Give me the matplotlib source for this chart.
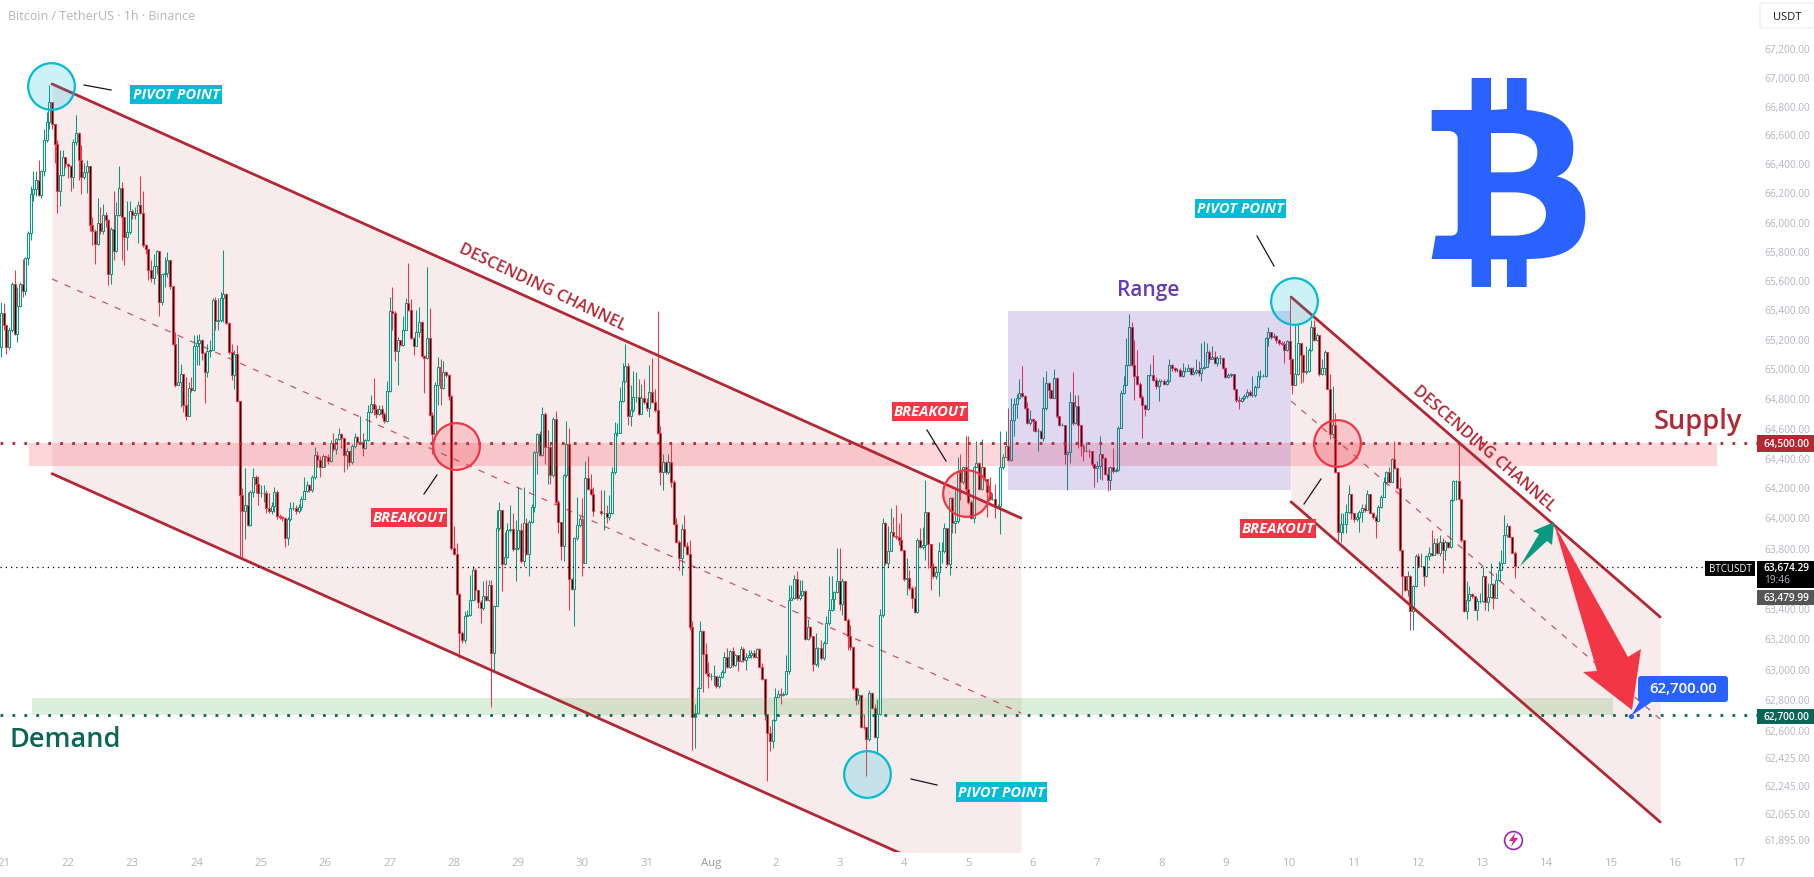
import matplotlib
matplotlib.use("Agg")
import matplotlib.pyplot as plt
from matplotlib.patches import Rectangle, FancyBboxPatch, Polygon, PathPatch
from matplotlib.path import Path
from matplotlib.transforms import Affine2D

W, H = 1815, 878
plt.rcParams['font.family'] = ['Open Sans', 'DejaVu Sans']

# hourly candles (close, high, low), open is the previous close
seg_a = [
 (65372,65451,65077),(65293,65440,65259),(65145,65293,65100),(65259,65281,65134),(65571,65587,65247),(65236,65666,65225),
 (65422,65553,65179),(65571,65587,65417),(65526,65746,65485),(65752,65757,65496),(65920,65938,65700),(66187,66244,65870),
 (66221,66350,66142),(66289,66350,66176),(66183,66425,66176),(66346,66357,66165),(66561,66640,66312),(66685,66753,66550),
 (66826,66946,66640),(66674,66826,66640),(66534,66674,66400),(66210,66561,66056),(66319,66493,66108),(66441,66493,66312),
 (66396,66441,66368),(66380,66396,66300),(66305,66391,66210),(66550,66572,66233),(66611,66735,66527),(66425,66618,66289),
 (66305,66527,66187),(66340,66400,66290),(66380,66425,66199),(65979,66380,65938),(65938,66029,65836),(65843,65949,65712),
 (65990,66165,65836),(65934,66097,65915),(66047,66119,65915),(66013,66063,65961),(65639,66017,65564),(65952,65961,65576),
 (65795,66210,65734),(66047,66131,65791),(66228,66380,66040),(66029,66273,65734),(65897,66029,65700),(65927,66142,65802),
 (66074,66142,65915),(66047,66085,66017),(66060,66100,66020),(66115,66142,65852),(66060,66312,66051),(65836,66210,65825),
 (65809,65847,65780),(65666,65813,65598),(65616,65734,65587),(65693,65780,65576),(65795,65802,65644),(65449,65791,65358),
 (65639,65644,65428),(65648,65757,65553),(65739,65791,65621),(65558,65739,65542),(65168,65553,65157),(64885,65247,64874),
 (64907,65213,64885),(64960,65032,64738),(64756,64964,64704),(64681,64941,64652),(64869,64907,64681),(64851,64941,64840),
 (65150,65225,64846),(65172,65225,65021),(65190,65236,65021),(65105,65202,65055),(64978,65111,64765),(65118,65168,64941),
 (65127,65190,65077),(65462,65474,65123),(65322,65485,65259),(65326,65474,65259),(65476,65519,65315),(65503,65807,65315),
 (65308,65508,65299),(65111,65317,65100),(64953,65168,64919),(65100,65123,64862),(64783,65157,64772),(64153,64783,63730),
 (64040,64194,63730),(64085,64330,63854),(63949,64171,63940),(64171,64183,63945),(64267,64330,64137),(64221,64285,64160),
 (64160,64274,64081),(64165,64217,64137),(64165,64217,64103),(64063,64183,64031),(64040,64160,64031),(64076,64103,64024),
 (64171,64205,64035),(64013,64183,63990),(64001,64024,63990),(63995,64010,63979),(63866,64001,63804),(63990,64001,63820),
 (64063,64103,63979),(64063,64103,64047),(64040,64085,64020),(64067,64090,64030),
]
seg_b = [
 (64126,64141,64053),(64174,64269,64133),(64214,64245,64170),(64181,64225,64170),(64269,64280,64170),(64419,64471,64258),
 (64386,64441,64335),(64339,64412,64269),(64412,64423,64335),(64405,64412,64335),(64375,64427,64357),(64500,64515,64368),
 (64456,64566,64445),(64522,64533,64423),(64555,64599,64515),(64529,64566,64467),(64419,64533,64302),(64441,64467,64324),
 (64368,64441,64346),(64478,64489,64357),(64540,64566,64467),(64507,64544,64489),(64507,64676,64489),(64467,64566,64412),
 (64515,64522,64456),(64709,64753,64511),(64760,64823,64698),(64727,64933,64687),(64691,64753,64665),(64727,64753,64687),
 (64691,64753,64665),(64643,64709,64632),(64848,64918,64639),(65391,65483,64841),(65376,65549,65259),(65116,65391,65050),
 (65193,65211,64885),(65156,65193,65149),(65263,65358,65153),(65446,65479,65259),(65395,65714,65391),(65204,65468,65197),
 (65149,65211,65087),(65248,65395,65149),(65314,65413,65215),(65083,65321,65079),(65072,65087,64837),(65204,65688,65061),
 (64687,65409,64676),(64555,64709,64423),(64885,64907,64522),(65006,65079,64753),(64867,65061,64753),(64973,65050,64863),
 (64955,64984,64940),(64815,64962,64786),(63796,64819,63785),(63759,63943,63752),(63495,63833,63488),(63239,63499,63070),
 (63187,63246,63169),(63349,63378,63173),(63356,63389,63345),(63455,63620,63345),(63653,63675,63444),(63517,63664,63455),
 (63437,63521,63400),(63400,63455,63301),(63481,63576,63389),(63455,63587,63444),(63554,63587,63444),(63107,63587,62751),
 (63415,63422,62982),(63928,64049,63411),(64049,64104,63917),(63693,64049,63510),(63737,63906,63686),(63917,63961,63730),
 (63921,64082,63906),(63789,64027,63780),(63796,63983,63576),(63917,64203,63785),(63708,63961,63701),(63961,64203,63675),
 (63759,63994,63752),(63972,63983,63613),(64071,64093,63961),(64434,64445,64038),(64555,64566,64291),(64419,64577,64412),
 (64694,64742,64412),(64471,64709,64357),(64471,64588,64225),(64280,64500,64225),(64661,64669,64269),(64104,64713,64093),
 (63968,64115,63895),(63811,63972,63719),(64280,64291,63708),(64493,64643,64269),(63591,64599,63389),(63525,63598,63521),
 (63862,63873,63279),(63950,64137,63851),(63990,64009,63939),(63701,64133,63609),(64265,64379,63697),(64192,64412,64181),
 (64159,64291,64148),(64040,64200,64010),
]
seg_c = [
 (64027,64181,64016),(64027,64181,63917),(64001,64082,63961),(64027,64148,63983),(64302,64335,64023),(64562,64639,64291),
 (64566,64632,64544),(64782,64874,64566),(64914,65039,64775),(65013,65167,64907),(64676,65039,64621),(64720,64885,64610),
 (64808,64984,64709),(64808,64977,64775),(64694,64929,64687),(64797,64896,64698),(64771,64929,64757),(64731,64797,64713),
 (64841,65021,64669),(64775,65072,64764),(64720,64863,64709),(64566,65390,64555),(64302,64610,64214),(64368,64423,64181),
 (64302,64375,64291),(64368,64423,64291),(64236,64493,64203),(63957,64247,63950),(63840,63994,63833),(63730,63851,63653),
 (63924,63957,63620),(63811,64016,63807),(63759,63840,63752),(63275,63851,63257),(62685,63312,62469),(62711,62773,62487),
 (62876,62883,62707),(63250,63312,62872),(63099,63257,62850),(62975,63169,62966),(62953,63048,62872),(62953,62971,62927),
 (62953,63026,62894),(62887,62953,62878),(62945,62960,62878),(62982,62993,62938),(63081,63114,62975),(63011,63136,63004),
 (63118,63125,63004),(63026,63147,63015),(63088,63099,63022),(63055,63092,62989),(63132,63151,63048),(63059,63147,63048),
 (63077,63103,62993),(63092,63125,63070),(63107,63125,63070),(63077,63125,63070),(63132,63136,63070),(63015,63136,63011),
 (62932,63037,62927),(62707,62937,62667),(62579,62696,62271),(62527,62630,62465),(62663,62674,62487),(62817,62872,62659),
 (62835,62861,62817),(62828,62872,62773),(62835,62850,62821),(62989,63092,62828),(63455,63554,62967),(63466,63554,63451),
 (63591,63620,63459),(63466,63642,63455),(63488,63587,63455),(63510,63587,63477),(63195,63516,63191),(63275,63327,63191),
 (63213,63279,63202),(63033,63213,62989),(63136,63235,63022),(63136,63147,63015),(63070,63191,63059),(63173,63180,63059),
 (63301,63345,63169),(63389,63609,63290),(63459,63613,63378),(63503,63510,63389),(63576,63796,63499),(63429,63800,63389),
 (63576,63598,63356),(63323,63576,63319),(63213,63334,63125),(63143,63290,63125),(62872,63147,62865),(62795,62883,62762),
 (62828,62872,62773),(62623,62828,62614),(62619,62707,62608),(62542,62608,62300),(62843,62865,62531),(62747,62850,62740),
 (62557,62773,62549),(62703,62806,62443),(63356,63393,62696),(63965,63994,63344),(63697,63972,63686),(63778,63943,63671),
 (63906,64060,63774),(63877,64005,63868),(63873,64082,63855),(63850,63960,63820),
]
seg_d = [
 (63781,64027,63774),(63591,63785,63576),(63598,63730,63488),(63532,63653,63521),(63466,63543,63400),(63371,63543,63367),
 (63851,63862,63367),(63807,63928,63796),(63818,63939,63790),(64038,64251,63719),(63825,63939,63664),(63675,63763,63521),
 (63609,63697,63598),(63640,63680,63590),(63774,63840,63477),(63780,63840,63700),(63928,63961,63763),(63693,63917,63680),
 (64130,64137,63620),(63961,64137,63895),(63979,64181,63895),(64302,64401,63961),(64236,64423,64115),(64335,64346,64225),
 (64192,64544,64170),(64104,64544,64093),(63994,64115,63987),(64335,64346,63961),(64364,64511,64335),(64192,64368,64181),
 (64335,64522,64181),(64258,64335,64247),(64170,64258,64005),(64126,64269,64115),(64126,64163,64115),(64071,64225,63994),
 (64075,64089,64060),(64335,64577,63890),(64405,64423,64324),(64478,64577,64401),(64386,64731,64379),(64654,64797,64379),
 (64760,64801,64544),(64797,64830,64665),(64834,64929,64793),(64815,65017,64808),(64731,64819,64727),(64630,64775,64625),
 (64661,64720,64621),(64643,64665,64577),(64577,64654,64573),(64577,64599,64445),(64529,64588,64522),(64731,64940,64511),
 (64903,64984,64720),(64852,64907,64797),(64801,64841,64797),(64933,64995,64797),(64676,64940,64665),(64617,64676,64610),
 (64621,64632,64610),(64427,64621,64357),(64434,64445,64181),(64771,64841,64361),(64630,64977,64621),(64749,64819,64625),
 (64617,64819,64467),(64478,64621,64412),(64445,64489,64379),(64445,64507,64434),(64441,64456,64401),(64357,64445,64346),
 (64331,64357,64203),(64346,64379,64236),(64423,64544,64258),(64397,64423,64247),(64291,64405,64280),(64251,64335,64174),
 (64339,64346,64185),(64309,64467,64295),(64317,64331,64302),(64599,64610,64313),(64837,64852,64595),(64890,64951,64830),
 (65021,65204,64885),(65277,65369,65017),(65021,65314,65017),(64947,65193,64786),(64896,65127,64889),(64808,64907,64801),
 (64753,64819,64529),(64727,64757,64676),(64955,64955,64720),(64955,65028,64947),(64922,65087,64918),(64881,64940,64863),
 (64918,64929,64779),(64918,64929,64907),(64896,64929,64889),(64918,64929,64889),(65021,65061,64907),(65000,65028,64984),
 (64991,65006,64973),(64991,65000,64977),(64947,65000,64940),(64984,65039,64940),(64984,65006,64977),(65000,65028,64984),
 (64962,65006,64955),(64975,65010,64955),(64990,65060,64960),(64970,65050,64950),
]
seg_e = [
 (65002,65170,64918),(65006,65182,64995),(65109,65175,65057),(65065,65127,65039),(65079,65149,65065),(65035,65116,65028),
 (65068,65083,65017),(65072,65087,65028),(65000,65079,64995),(64940,65006,64933),(64955,64969,64938),(64962,64969,64940),
 (64859,64962,64852),(64786,64859,64775),(64779,64815,64727),(64801,64808,64775),(64815,64830,64786),(64841,64863,64797),
 (64819,64852,64815),(64819,64947,64808),(64874,64885,64806),(64947,64984,64867),(64947,64991,64929),(64947,64962,64940),
 (65204,65215,64940),(65244,65281,65149),(65211,65248,65197),(65219,65237,65204),(65189,65226,65175),(65171,65197,65160),
 (65167,65182,65160),(65127,65182,65035),(65182,65193,65116),(65065,65480,64962),(64889,65072,64830),(64962,65303,64896),
 (65171,65303,64955),(65087,65171,64903),(64973,65094,64907),(64984,65149,64962),(65123,65138,64977),(65281,65325,65116),
 (65189,65325,65182),(65228,65237,65182),(64962,65228,64951),(65000,65061,64955),(65112,65123,64955),(64863,65112,64859),
 (64555,64962,64522),(64621,64881,64544),(64302,64698,64296),(63906,64302,63840),(63957,64032,63840),(63957,64027,63895),
 (64038,64093,63895),(64159,64214,64027),(64027,64159,63987),(63987,64027,63972),(64005,64027,63979),(64038,64049,63906),
 (64060,64093,63972),(64049,64093,64038),(64155,64181,64049),(64031,64159,64027),(64001,64038,63987),(63979,64016,63862),
 (64067,64082,63979),(64137,64148,64060),(64236,64269,64137),(64302,64313,64225),(64236,64335,64229),(64390,64397,64236),
 (64331,64511,64324),(64199,64335,64192),(63781,64269,63774),(63613,63781,63477),(63521,63613,63510),(63609,63642,63477),
 (63378,63620,63257),(63543,63554,63257),(63745,63759,63539),(63679,63763,63671),(63679,63763,63671),(63609,63679,63547),
 (63745,63752,63605),(63763,63807,63719),(63752,63917,63741),(63833,63862,63752),(63763,63862,63759),(63840,63884,63741),
 (63781,63862,63631),(63840,63851,63719),(63803,63840,63796),(64115,64126,63796),(64243,64247,64111),(64243,64251,64115),
 (64126,64493,64115),(63847,64126,63840),(63378,63851,63371),(63451,63576,63327),(63495,63543,63444),(63477,63499,63466),
 (63389,63477,63385),(63444,63466,63323),(63444,63499,63433),(63609,63670,63437),(63437,63609,63385),(63473,63565,63378),
 (63561,63697,63466),(63466,63565,63393),(63587,63631,63466),(63653,63708,63576),(63701,63785,63649),(63884,64016,63697),
 (63943,63961,63873),(63873,63950,63869),(63767,63873,63763),(63679,63774,63598),
]
segments = [seg_a, seg_b, seg_c, seg_d, seg_e]
seg_first_hour = [0, 112, 224, 336, 448]
first_open = 65145

# axes
day_labels = ['21','22','23','24','25','26','27','28','29','30','31','Aug','2','3','4','5','6','7','8','9','10','11','12','13','14','15','16','17']
price_ticks = [67200,67000,66800,66600,66400,66200,66000,65800,65600,65400,65200,65000,64800,64600,64400,64200,64000,
               63800,63400,63200,63000,62800,62600,62425,62245,62065,61895]

# levels
supply_price = 64500
supply_low = 64343
demand_price = 62700
demand_high = 62810
last_price = 63674.29
range_top = 65391
range_bottom = 64185

# channels: x in days from 21 Jul, prices at both ends
chan1_x = [0.75, 15.82]
chan1_upper = [66951, 63996]
chan1_mid = [65607, 62712]
chan1_lower = [64292, 61458]
chan2_x = [20.02, 25.76]
chan2_upper = [65484, 63341]
chan2_mid = [64780, 62673]
chan2_lower = [64104, 62005]

pivot_days = [0.727, 13.42, 20.06]
pivot_prices = [66937, 62315, 65459]
break_days = [7.04, 14.96, 20.73]
break_prices = [64477, 64162, 64495]

RED = '#b22833'
TEAL = '#089981'
CANDLE_RED = '#f23645'
GREEN_DK = '#0b6655'
GRAY = '#b2b5be'
BLUE = '#2962ff'

fig = plt.figure(figsize=(W / 100, H / 100), dpi=100, facecolor='white')
ax = fig.add_axes([0, 1 - 853 / H, 1757 / W, 853 / H])
ax.set_yscale('log')
ax.set_xlim(-0.0591, 27.266)
ax.set_ylim(61812, 67545)
for s in ax.spines.values():
    s.set_visible(False)

# picture-pixel transform for drawing tools (labels, callouts)
pix = Affine2D().scale(1, -1).translate(0, H)

ax.set_xticks(range(len(day_labels)))
ax.set_xticklabels(day_labels, fontsize=8.2, color=GRAY)
ax.get_xticklabels()[11].set_color('#9598a1')
ax.tick_params(axis='x', length=0, pad=3.5)
ax.yaxis.tick_right()
ax.set_yticks(price_ticks)
ax.set_yticklabels([f'{p:,.2f}' for p in price_ticks], fontsize=7.3, color=GRAY)
ax.minorticks_off()
ax.tick_params(axis='y', which='both', length=0, pad=5)

# channels
ax.fill_between(chan1_x, chan1_lower, chan1_upper, color=RED, alpha=0.09, lw=0, zorder=1)
ax.fill_between(chan2_x, chan2_lower, chan2_upper, color=RED, alpha=0.09, lw=0, zorder=1)

# candles
prev = first_open
for start, seg in zip(seg_first_hour, segments):
    for n, (c, hi, lo) in enumerate(seg):
        x = -0.0417 + (start + n) / 24
        up = c >= prev
        col = TEAL if up else CANDLE_RED
        ax.vlines(x, min(lo, c, prev), max(hi, c, prev), color=col, lw=0.75, zorder=3)
        ax.bar(x, abs(c - prev), bottom=min(c, prev), width=0.031, align='center',
               facecolor='white' if up else 'black', edgecolor=col, linewidth=0.75, zorder=4)
        prev = c

# zones sit over the candles
ax.add_patch(Rectangle((0.39, supply_low), 26.25, supply_price - supply_low, fc=CANDLE_RED, alpha=0.2, lw=0, zorder=5))
ax.add_patch(Rectangle((0.44, demand_price), 24.58, demand_high - demand_price, fc='#4caf50', alpha=0.2, lw=0, zorder=5))
ax.add_patch(Rectangle((15.62, range_bottom), 4.4, range_top - range_bottom, fc='#673ab7', alpha=0.2, lw=0, zorder=5))

for xs, up_l, mid_l, lo_l in [(chan1_x, chan1_upper, chan1_mid, chan1_lower), (chan2_x, chan2_upper, chan2_mid, chan2_lower)]:
    ax.plot(xs, up_l, color=RED, lw=2, zorder=6, solid_capstyle='round')
    ax.plot(xs, lo_l, color=RED, lw=2, zorder=6, solid_capstyle='round')
    ax.plot(xs, mid_l, color=RED, lw=0.9, alpha=0.75, dashes=(5, 6), zorder=6)

ax.plot([-0.06, 27.27], [supply_price] * 2, color=RED, lw=2, dashes=(1, 3.3), zorder=6)
ax.plot([-0.06, 27.27], [demand_price] * 2, color=GREEN_DK, lw=2, dashes=(1, 3.3), zorder=6)
ax.plot([-0.06, 26.5], [last_price] * 2, color='black', lw=0.9, dashes=(1, 3.2), zorder=6)

ax.scatter(pivot_days, pivot_prices, s=1130, fc=(0, 188 / 255, 212 / 255, 0.2), ec='#00bcd4', lw=1.6, zorder=7)
ax.scatter(break_days, break_prices, s=1130, fc=(242 / 255, 54 / 255, 69 / 255, 0.2), ec=CANDLE_RED, lw=1.6, zorder=7)

# callout lines
for (x0, y0, x1, y1) in [(84, 86, 111, 91), (437, 476, 424, 495), (927, 431, 946, 462),
                         (911, 780, 937, 786), (1257, 237, 1274, 267), (1304, 505, 1321, 480)]:
    ax.plot([x0, x1], [y0, y1], color='#131722', lw=0.9, transform=pix, zorder=7)


def tag(x0, y0, x1, y1, text, color):
    ax.add_patch(Rectangle((x0, y0), x1 - x0, y1 - y0, fc=color, lw=0, transform=pix, zorder=8))
    ax.text((x0 + x1) / 2, (y0 + y1) / 2, text, color='white', fontsize=10.6, fontweight='bold', style='italic',
            ha='center', va='center', transform=pix, zorder=9)


tag(130, 86, 222, 105, 'PIVOT POINT', '#00bcd4')
tag(1195, 200, 1286, 219, 'PIVOT POINT', '#00bcd4')
tag(956, 783, 1047, 803, 'PIVOT POINT', '#00bcd4')
tag(371, 509, 447, 528, 'BREAKOUT', CANDLE_RED)
tag(892, 403, 968, 422, 'BREAKOUT', CANDLE_RED)
tag(1240, 520, 1316, 539, 'BREAKOUT', CANDLE_RED)

ax.text(542, 288, 'DESCENDING CHANNEL', color=RED, fontsize=11.6, fontweight='semibold', rotation=-25.5, rotation_mode='anchor',
        ha='center', va='center', transform=pix, zorder=8)
ax.text(1484, 449, 'DESCENDING CHANNEL', color=RED, fontsize=11.6, fontweight='semibold', rotation=-41, rotation_mode='anchor',
        ha='center', va='center', transform=pix, zorder=8)
ax.text(1148, 291, 'Range', color='#673ab7', fontsize=15, fontweight='semibold', ha='center', va='center', transform=pix, zorder=8)
ax.text(1698, 422, 'Supply', color=RED, fontsize=19.5, fontweight='semibold', ha='center', va='center', transform=pix, zorder=8, clip_on=False)
ax.text(65, 740, 'Demand', color=GREEN_DK, fontsize=19.5, fontweight='semibold', ha='center', va='center', transform=pix, zorder=8)

# arrows
ax.add_patch(Polygon([(1520, 567), (1539, 535), (1533, 532), (1554, 523), (1552, 546), (1547, 542)],
                     fc=TEAL, lw=0, transform=pix, zorder=8))
ax.add_patch(Polygon([(1554, 525), (1628, 658), (1641, 650), (1632, 711), (1583, 673), (1597, 672)],
                     fc=CANDLE_RED, lw=0, transform=pix, zorder=8))

# target label
ax.add_patch(Polygon([(1631, 717), (1640, 702), (1653, 702)], fc=BLUE, lw=0, transform=pix, zorder=8))
ax.scatter([1631], [717], s=14, fc=BLUE, lw=0, transform=pix, zorder=8)
ax.add_patch(FancyBboxPatch((1641, 680), 84, 20, boxstyle='round,pad=3', fc=BLUE, lw=0, transform=pix, zorder=8))
ax.text(1683, 689.5, '62,700.00', color='white', fontsize=10.8, fontweight='semibold', ha='center', va='center', transform=pix, zorder=9)

# bitcoin logo, from the shape in the picture (units: crop pixels x3)
logo_verts = [
    (155,153),(275,153),(275,57),(333,57),(333,153),(381,150),(381,57),(440,57),(440,153),
    (530,160),(580,195),(580,265),(580,310),(565,340),(530,352),(590,365),(616,410),(616,470),
    (616,560),(560,600),(440,600),(440,684),(381,684),(381,601),(333,601),(333,684),(275,684),
    (275,600),(155,600),(167,530),(210,530),(225,530),(233,525),(233,508),(233,240),(233,225),
    (222,216),(205,216),(155,216),(155,153),
    (333,222),(333,340),(390,340),(440,340),(472,325),(472,280),(472,240),(440,222),(390,222),(333,222),
    (333,400),(333,530),(400,530),(460,530),(498,505),(498,465),(498,425),(460,400),(400,400),(333,400),
]
L, C, M, Z = Path.LINETO, Path.CURVE4, Path.MOVETO, Path.CLOSEPOLY
logo_codes = [M] + [L] * 8 + [C] * 12 + [L] * 10 + [C] * 3 + [L] + [C] * 3 + [L, Z]
logo_codes += [M, L, L] + [C] * 6 + [Z]
logo_codes += [M, L, L] + [C] * 6 + [Z]
logo_tr = Affine2D().scale(1 / 3).translate(1380, 60) + pix
ax.add_patch(PathPatch(Path(logo_verts, logo_codes), fc=BLUE, lw=0, transform=logo_tr, zorder=8))

# title
fig.text(8 / W, 1 - 16 / H, 'Bitcoin / TetherUS · 1h · Binance', color=GRAY, fontsize=9, va='center')

# lightning badge
ax.scatter([1513], [841], s=165, fc='white', ec='#9c27b0', lw=1.2, transform=pix, zorder=8)
ax.add_patch(Polygon([(1515, 834), (1509, 842), (1513, 842), (1511, 848), (1518, 839), (1514, 839)],
                     fc='#e91e8c', lw=0, transform=pix, zorder=9))


# price scale labels
def price_box(y0, y1, text, color, tc='white'):
    fig.add_artist(Rectangle((1757, y0), 58, y1 - y0, fc=color, lw=0, transform=pix, zorder=10))
    fig.text(1764 / W, 1 - (y0 + y1) / 2 / H, text, color=tc, fontsize=7.3, fontweight='semibold', va='center', zorder=11)


price_box(436, 453, '64,500.00', RED)
price_box(710, 725, '62,700.00', GREEN_DK)
price_box(591, 606, '63,479.99', '#555555')
fig.add_artist(Rectangle((1757, 562), 58, 27, fc='black', lw=0, transform=pix, zorder=10))
fig.text(1764 / W, 1 - 568.5 / H, '63,674.29', color='white', fontsize=7.3, fontweight='semibold', va='center', zorder=11)
fig.text(1764 / W, 1 - 581 / H, '19:46', color='#b2b5be', fontsize=7.3, va='center', zorder=11)
fig.add_artist(Rectangle((1705, 562), 50, 15, fc='black', lw=0, transform=pix, zorder=10))
fig.text(1730 / W, 1 - 569.5 / H, 'BTCUSDT', color='white', fontsize=7, ha='center', va='center', zorder=11)
fig.add_artist(FancyBboxPatch((1762, 6), 50, 21, boxstyle='round,pad=2', fc='white', ec='#f0f3fa', lw=1.2, transform=pix, zorder=10))
fig.text(1787 / W, 1 - 17 / H, 'USDT', color='#131722', fontsize=8, ha='center', va='center', zorder=11)

fig.savefig('out.png', dpi=100)
